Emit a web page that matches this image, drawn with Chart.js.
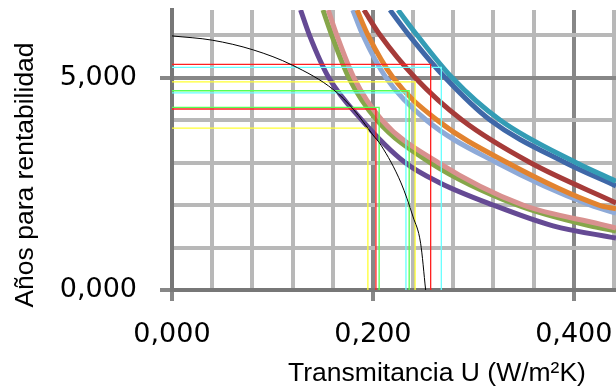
<!DOCTYPE html>
<html>
<head>
<meta charset="utf-8">
<script src="https://cdn.jsdelivr.net/npm/chart.js@4/dist/chart.umd.min.js"></script>
<style>
  html, body { margin: 0; padding: 0; background: #ffffff; }
  #wrap { width: 616px; height: 390px; position: relative; }
</style>
</head>
<body>
<div id="wrap"><canvas id="chart"></canvas></div>
<script>
// grid / tick positions
const X_TICKS = [0, 0.04, 0.08, 0.12, 0.16, 0.2, 0.24, 0.28, 0.32, 0.36, 0.4, 0.44];
const X_MAJOR = [0, 0.2, 0.4];
const X_LABELS = ["0,000", "0,200", "0,400"];
const Y_TICKS = [0, 1, 2, 3, 4, 5, 6];
const Y_MAJOR = [0, 5];
const Y_LABELS = ["0,000", "5,000"];

const X_TITLE = "Transmitancia U (W/m²K)";
const Y_TITLE = "Años para rentabilidad";

// thick curves (U, years)
const PURPLE_U = [0.1280, 0.1368, 0.1560, 0.1890, 0.2320, 0.2668, 0.3196, 0.3793, 0.4420];
const PURPLE_Y = [6.59, 6.00, 5.00, 4.00, 3.00, 2.52, 2.00, 1.51, 1.22];
const GREEN_U = [0.1503, 0.1590, 0.1760, 0.2040, 0.2570, 0.3435, 0.4161, 0.4420];
const GREEN_Y = [6.59, 6.00, 5.00, 4.00, 3.00, 2.00, 1.51, 1.39];
const PINK_U = [0.1555, 0.1640, 0.1810, 0.2090, 0.2650, 0.3494, 0.4261, 0.4420];
const PINK_Y = [6.59, 6.00, 5.00, 4.00, 3.00, 2.00, 1.55, 1.46];
const LBLUE_U = [0.1800, 0.1900, 0.2130, 0.2530, 0.3230, 0.4161, 0.4420];
const LBLUE_Y = [6.59, 6.00, 5.00, 4.00, 3.00, 2.00, 1.81];
const ORANGE_U = [0.1842, 0.1951, 0.2200, 0.2638, 0.3335, 0.4250, 0.4420];
const ORANGE_Y = [6.59, 6.00, 5.00, 4.00, 3.00, 2.00, 1.91];
const DRED_U = [0.1911, 0.2071, 0.2419, 0.2887, 0.3564, 0.4420];
const DRED_Y = [6.59, 6.00, 5.00, 4.00, 3.00, 2.05];
const DBLUE_U = [0.2170, 0.2359, 0.2718, 0.3166, 0.3912, 0.4420];
const DBLUE_Y = [6.59, 6.00, 5.00, 4.00, 3.00, 2.45];
const TEAL_U = [0.2250, 0.2439, 0.2787, 0.3265, 0.4020, 0.4420];
const TEAL_Y = [6.59, 6.00, 5.00, 4.00, 3.00, 2.56];

// thin black limit curve
const LIMIT_U = [0, 0.04, 0.081, 0.12, 0.161, 0.181, 0.2, 0.208, 0.228, 0.24, 0.2475, 0.2525];
const LIMIT_Y = [5.98, 5.88, 5.65, 5.29, 4.71, 4.24, 3.65, 3.41, 2.52, 1.72, 1.1, 0];

// reading lines: corner (U, years) and colour
const MARK_U = [0.2575, 0.2681, 0.2420, 0.2361, 0.2329, 0.2062, 0.2030, 0.1950];
const MARK_Y = [5.31, 5.24, 4.90, 4.69, 4.64, 4.30, 4.26, 3.81];
const MARK_COLORS = ["#ff2020", "#66ffff", "#ffff33", "#55ff55", "#66ffff", "#55ff55", "#ff2020", "#ffff33"];

const TICK_FONT = { family: "DejaVu Sans", size: 27 };
const GRID_MINOR = "#b8b8b8";
const GRID_MAJOR = "#878787";

function pairs(us, ys) {
  return us.map((u, i) => ({ x: u, y: ys[i] }));
}

function near(list, v) {
  return list.some((m) => Math.abs(m - v) < 1e-6);
}

function curve(label, us, ys, color) {
  return {
    label: label,
    data: pairs(us, ys),
    borderColor: color,
    borderWidth: 5,
    pointRadius: 0,
    cubicInterpolationMode: "monotone",
    clip: 0
  };
}

const markSets = MARK_U.map((u, i) => ({
  label: "mark" + i,
  data: [{ x: 0, y: MARK_Y[i] }, { x: u, y: MARK_Y[i] }, { x: u, y: 0 }],
  borderColor: MARK_COLORS[i],
  borderWidth: 1.3,
  pointRadius: 0,
  tension: 0,
  clip: 0
}));

const axisTitles = {
  id: "axisTitles",
  afterDraw(chart) {
    const ctx = chart.ctx;
    ctx.save();
    ctx.font = '26.5px "Liberation Sans"';
    ctx.fillStyle = "#000000";
    ctx.textAlign = "center";
    ctx.textBaseline = "middle";
    ctx.fillText(X_TITLE, 437, 374);
    ctx.translate(26, 175);
    ctx.rotate(-Math.PI / 2);
    ctx.fillText(Y_TITLE, 0, 0);
    ctx.restore();
  }
};

new Chart(document.getElementById("chart").getContext("2d"), {
  type: "line",
  data: {
    datasets: [
      {
        label: "limite",
        data: pairs(LIMIT_U, LIMIT_Y),
        borderColor: "#000000",
        borderWidth: 1,
        pointRadius: 0,
        cubicInterpolationMode: "monotone",
        clip: 0
      },
      ...markSets,
      curve("c1", PURPLE_U, PURPLE_Y, "#654a94"),
      curve("c2", PINK_U, PINK_Y, "#d9918f"),
      curve("c3", GREEN_U, GREEN_Y, "#86a64a"),
      curve("c4", ORANGE_U, ORANGE_Y, "#e2832f"),
      curve("c5", LBLUE_U, LBLUE_Y, "#8eaad8"),
      curve("c6", DRED_U, DRED_Y, "#a63b39"),
      curve("c7", TEAL_U, TEAL_Y, "#339cb5"),
      curve("c8", DBLUE_U, DBLUE_Y, "#3f68a8")
    ]
  },
  options: {
    responsive: true,
    maintainAspectRatio: false,
    animation: false,
    layout: { padding: { top: 10, right: 0, bottom: 0, left: 0 } },
    plugins: {
      legend: { display: false },
      tooltip: { enabled: false }
    },
    scales: {
      x: {
        type: "linear",
        min: 0,
        max: 0.442,
        afterBuildTicks: (scale) => {
          scale.ticks = X_TICKS.map((v) => ({ value: v }));
        },
        afterFit: (scale) => {
          scale.height = 100;
          scale.paddingLeft = 0;
          scale.paddingRight = 0;
        },
        ticks: {
          autoSkip: false,
          maxRotation: 0,
          padding: 18,
          font: TICK_FONT,
          color: "#000000",
          callback: (v) => {
            const i = X_MAJOR.findIndex((m) => Math.abs(m - v) < 1e-6);
            return i >= 0 ? X_LABELS[i] : "";
          }
        },
        grid: {
          color: (ctx) => (near(X_MAJOR, ctx.tick.value) ? GRID_MAJOR : GRID_MINOR),
          lineWidth: 4,
          tickLength: 11,
          tickColor: (ctx) => (near(X_MAJOR, ctx.tick.value) ? GRID_MAJOR : "rgba(0,0,0,0)")
        },
        border: { color: "#777777", width: 4 }
      },
      y: {
        type: "linear",
        min: 0,
        max: 6.59,
        afterBuildTicks: (scale) => {
          scale.ticks = Y_TICKS.map((v) => ({ value: v }));
        },
        afterFit: (scale) => {
          scale.width = 172;
          scale.paddingTop = 0;
          scale.paddingBottom = 0;
        },
        ticks: {
          autoSkip: false,
          padding: 23,
          font: TICK_FONT,
          color: "#000000",
          callback: (v) => {
            const i = Y_MAJOR.findIndex((m) => Math.abs(m - v) < 1e-6);
            return i >= 0 ? Y_LABELS[i] : "";
          }
        },
        grid: {
          color: (ctx) => (near(Y_MAJOR, ctx.tick.value) ? GRID_MAJOR : GRID_MINOR),
          lineWidth: 4,
          tickLength: 12,
          tickColor: (ctx) => (near(Y_MAJOR, ctx.tick.value) ? GRID_MAJOR : "rgba(0,0,0,0)")
        },
        border: { color: "#777777", width: 4 }
      }
    }
  },
  plugins: [axisTitles]
});
</script>
</body>
</html>
